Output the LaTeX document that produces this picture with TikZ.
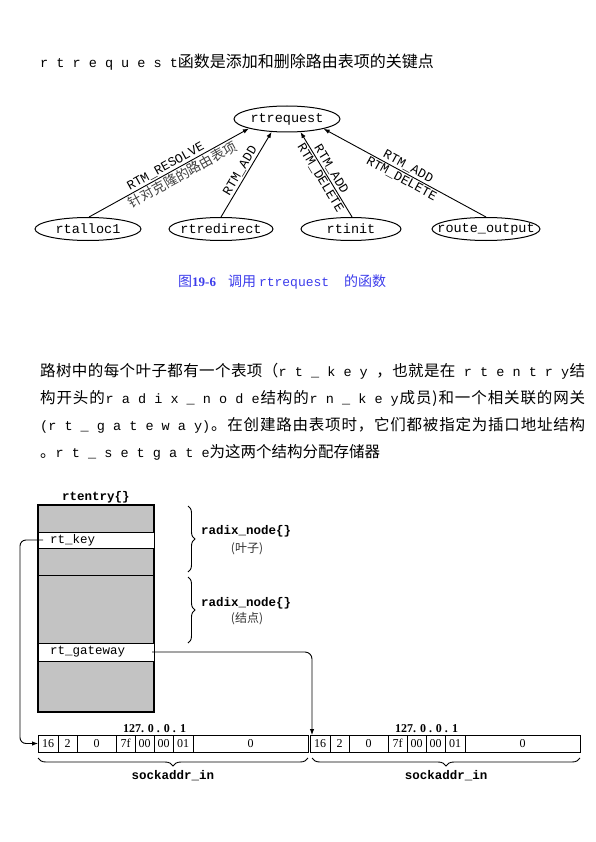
\documentclass[tikz,border=0pt]{standalone}
\usepackage{fontspec}
\setmainfont{Liberation Serif}
\setmonofont{Liberation Mono}
\newfontfamily\cjk{Noto Sans CJK SC}
\usetikzlibrary{shapes.geometric,arrows.meta,decorations.pathreplacing,positioning}
\definecolor{capblue}{RGB}{60,60,235}
\definecolor{fillgray}{RGB}{195,195,195}
\makeatletter
\newcommand\spreadline[2]{\hbox to #1{\def\sp@sep{}\@tfor\sp@item:=#2\do{\sp@sep\sp@item\def\sp@sep{\hfil}}}}
\makeatother
\newcommand\zw[1]{\makebox[0pt]{#1}}
\newcommand\mono{\ttfamily\fontsize{13.5}{18}\selectfont}
\tikzset{
  ell/.style={draw, ellipse, line width=1pt, inner sep=0pt, minimum height=23pt,
    font=\ttfamily\fontsize{13.5}{15}\selectfont},
  arr/.style={line width=0.9pt, -{Latex[length=6pt,width=4.5pt]}},
  lbl/.style={font=\ttfamily\fontsize{13}{14}\selectfont, inner sep=1.5pt, sloped},
  cjklbl/.style={font=\cjk\fontsize{13.5}{14}\selectfont, text=black!75, inner sep=1.5pt, sloped},
  para/.style={anchor=base west, inner sep=0pt, font=\cjk\fontsize{15.5}{18}\selectfont},
  cell/.style={draw, line width=0.6pt, inner sep=0pt, outer sep=0pt, minimum height=17pt,
    font=\fontsize{12}{14}\selectfont},
  row/.style={draw, line width=0.9pt, fill=white, inner sep=0pt, outer sep=0pt,
    minimum width=116pt, minimum height=16pt, font=\ttfamily\fontsize{12.5}{14}\selectfont},
  bmono/.style={font=\ttfamily\bfseries\fontsize{12.5}{14}\selectfont, inner sep=0pt},
  brc/.style={decorate, line width=0.9pt},
}
\begin{document}
\begin{tikzpicture}[x=1pt,y=-1pt]
\useasboundingbox (0,0) rectangle (595,842);

% intro line
\node[anchor=base west, inner sep=0pt] (intro) at (40,68)
  {{\mono r t r e q u e s t}{\cjk\fontsize{16}{18}\selectfont 函数是添加和删除路由表项的关键点}};

% call graph
\node[ell, minimum width=106pt, minimum height=26pt] (rtrequest) at (287,119) {\zw{rtrequest}};
\node[ell, minimum width=106pt] (rtalloc) at (88,229) {\zw{rtalloc1}};
\node[ell, minimum width=104pt] (rtredirect) at (221,229) {\zw{rtredirect}};
\node[ell, minimum width=100pt] (rtinit) at (351,229) {\zw{rtinit}};
\node[ell, minimum width=108pt] (routeout) at (486,229) {\zw{route\_output}};

\draw[arr] (rtalloc.85) -- (rtrequest.194)
  node[lbl, pos=0.5, above] {RTM\_RESOLVE}
  node[cjklbl, pos=0.56, below] {针对克隆的路由表项};
\draw[arr] (rtredirect.north) -- (rtrequest.220)
  node[lbl, midway, above] {RTM\_ADD};
\draw[arr] (rtinit.85) -- (rtrequest.316)
  node[lbl, pos=0.52, above] {RTM\_ADD}
  node[lbl, pos=0.5, below] {RTM\_DELETE};
\draw[arr] (routeout.north) -- (rtrequest.345)
  node[lbl, midway, above] {RTM\_ADD}
  node[lbl, midway, below] {RTM\_DELETE};

% caption
\node[anchor=base west, inner sep=0pt, text=capblue] (cap) at (178,286)
  {\cjk\fontsize{14}{16}\selectfont 图{\rmfamily\bfseries\fontsize{13}{16}\selectfont 19-6}\hspace{12pt}调用\hspace{3pt}{\ttfamily\fontsize{13}{16}\selectfont rtrequest}\hspace{15pt}的函数};

% paragraph
\node[para] (p1) at (40,376.5) {\spreadline{545pt}{路树中的每个叶子都有一个表项（{{\mono r t \_ k e y }}，也就是在{{\mono\ r t e n t r y}}结}};
\node[para] (p2) at (40,403.5) {\spreadline{545pt}{构开头的{{\mono r a d i x \_ n o d e}}结构的{{\mono r n \_ k e y}}成员)和一个相关联的网关}};
\node[para] (p3) at (40,430.5) {\spreadline{545pt}{{{\mono (r t \_ g a t e w a y)}}。在创建路由表项时，它们都被指定为插口地址结构}};
\node[para] (p4) at (40,457.5) {。{\mono r t \_ s e t g a t e}为这两个结构分配存储器};

% rtentry structure
\node[draw, line width=1.1pt, fill=fillgray, minimum width=116pt, minimum height=207pt,
  inner sep=0pt, outer sep=0pt] (rtbox) at (96,608.5) {};
\draw[line width=1pt] (38,575) -- (154,575);
\node[row] (rtkey) at (96,540) {\makebox[92pt][l]{rt\_key}};
\node[row, minimum height=18pt] (rtgw) at (96,652) {\makebox[92pt][l]{rt\_gateway}};
\node[bmono, anchor=south] (rttitle) at (96,503) {rtentry\{\}};

% braces on the right
\draw[brc, decoration={brace, amplitude=7pt}] (188,506) -- (188,572);
\draw[brc, decoration={brace, amplitude=7pt}] (188,577) -- (188,643);
\node[bmono, anchor=west] (rn1) at (201,531) {radix\_node\{\}};
\node[font=\cjk\fontsize{12}{14}\selectfont, text=black!80] (leaf) at (247,549) {(叶子)};
\node[bmono, anchor=west] (rn2) at (201,603) {radix\_node\{\}};
\node[font=\cjk\fontsize{12}{14}\selectfont, text=black!80] (inner) at (247,619) {(结点)};

% sockaddr_in boxes
\node[cell, minimum width=20pt, anchor=west] (a1) at (38,743.5) {16};
\node[cell, minimum width=19pt, right=0pt of a1] (a2) {2};
\node[cell, minimum width=39pt, right=0pt of a2] (a3) {0};
\node[cell, minimum width=19pt, right=0pt of a3] (a4) {7f};
\node[cell, minimum width=19pt, right=0pt of a4] (a5) {00};
\node[cell, minimum width=19pt, right=0pt of a5] (a6) {00};
\node[cell, minimum width=20pt, right=0pt of a6] (a7) {01};
\node[cell, minimum width=115pt, right=0pt of a7] (a8) {0};

\node[cell, minimum width=20pt, anchor=west] (b1) at (310,743.5) {16};
\node[cell, minimum width=19pt, right=0pt of b1] (b2) {2};
\node[cell, minimum width=39pt, right=0pt of b2] (b3) {0};
\node[cell, minimum width=19pt, right=0pt of b3] (b4) {7f};
\node[cell, minimum width=19pt, right=0pt of b4] (b5) {00};
\node[cell, minimum width=19pt, right=0pt of b5] (b6) {00};
\node[cell, minimum width=20pt, right=0pt of b6] (b7) {01};
\node[cell, minimum width=115pt, right=0pt of b7] (b8) {0};

\path (a4.north west) -- (a7.north east)
  node[midway, above=1pt, inner sep=1pt, font=\bfseries\fontsize{12}{14}\selectfont] (ipa) {127. 0 . 0 . 1};
\path (b4.north west) -- (b7.north east)
  node[midway, above=1pt, inner sep=1pt, font=\bfseries\fontsize{12}{14}\selectfont] (ipb) {127. 0 . 0 . 1};

\draw[brc, decoration={brace, mirror, amplitude=8pt}] ([yshift=-6pt]a1.south west) -- ([yshift=-6pt]a8.south east)
  node[midway, below=12pt, bmono] (sa1) {sockaddr\_in};
\draw[brc, decoration={brace, mirror, amplitude=8pt}] ([yshift=-6pt,xshift=2pt]b1.south west) -- ([yshift=-6pt]b8.south east)
  node[midway, below=12pt, bmono] (sa2) {sockaddr\_in};

% connectors
\draw[arr, rounded corners=6pt] ([xshift=5pt]rtkey.west) -- ([xshift=-18pt]rtkey.west) |- (a1.west);
\coordinate (gwdrop) at ([xshift=2pt]b1.north west);
\draw[arr, rounded corners=7pt] ([xshift=-2pt]rtgw.east) -- (gwdrop |- rtgw.east) -- (gwdrop);
\end{tikzpicture}
\end{document}
